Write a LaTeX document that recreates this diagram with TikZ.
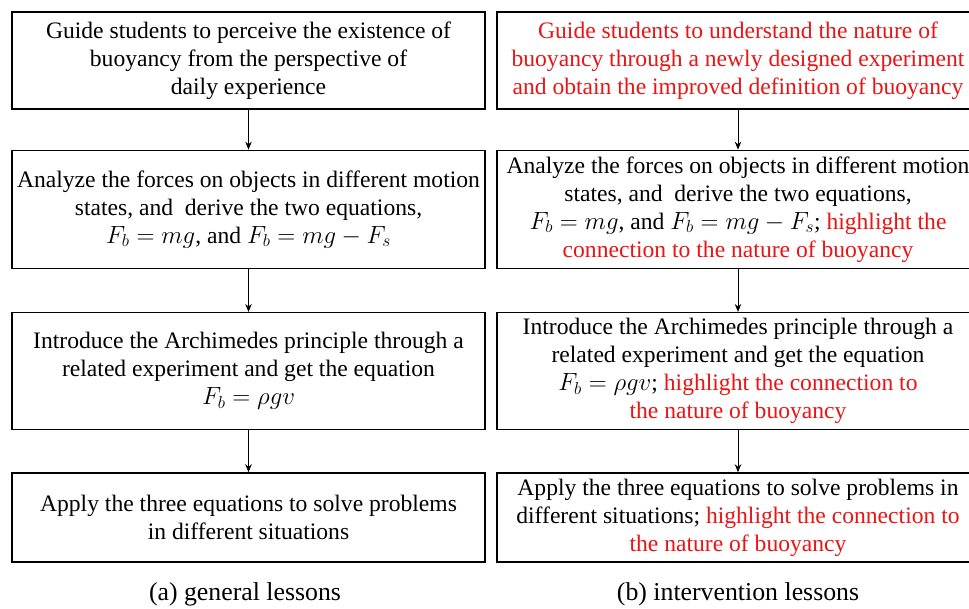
\documentclass[tikz,border=0pt]{standalone}
\usepackage{fontspec}
\setmainfont{Liberation Serif}
\usetikzlibrary{positioning, arrows.meta}
\definecolor{hlred}{RGB}{235,20,20}
\newcommand{\hlt}[1]{\textcolor{hlred}{#1}}

\begin{document}
\begin{tikzpicture}[
  x=1pt, y=1pt,
  >={Stealth[length=8pt, width=6.5pt]},
  every node/.style={font=\fontsize{23.6}{28}\selectfont},
  box/.style = {draw, line width=1.3pt, align=center, inner sep=0pt, minimum width=473pt},
  arr/.style = {->, line width=0.9pt},
  subcap/.style = {inner sep=0pt, font=\fontsize{25.8}{30}\selectfont},
]
  \useasboundingbox (0,0) rectangle (969,-608);
  \clip (0,0) rectangle (969,-608);
  % (a) general lessons
  \node[box, minimum height=97pt] (g1) at (248.5,-60.5)
    {Guide students to perceive the existence of\\buoyancy from the perspective of\\daily experience};
  \node[box, minimum height=118pt, below=40pt of g1] (g2)
    {Analyze the forces on objects in different motion\\states, and~ derive the two equations,\\$F_b = mg$, and $F_b = mg - F_s$};
  \node[box, minimum height=117pt, below=43pt of g2] (g3)
    {Introduce the Archimedes principle through a\\related experiment and get the equation\\$F_b = \rho g v$};
  \node[box, minimum height=89pt, below=42pt of g3] (g4)
    {Apply the three equations to solve problems\\in different situations};
  \draw[arr] (g1) -- (g2);
  \draw[arr] (g2) -- (g3);
  \draw[arr] (g3) -- (g4);
  % (b) intervention lessons
  \node[box, minimum width=482pt, minimum height=97pt] (v1) at (738,-60.5)
    {\hlt{Guide students to understand the nature of}\\\hlt{buoyancy through a newly designed experiment}\\\hlt{and obtain the improved definition of buoyancy}};
  \node[box, minimum width=482pt, minimum height=118pt, below=40pt of v1] (v2)
    {Analyze the forces on objects in different motion\\states, and~ derive the two equations,\\$F_b = mg$, and $F_b = mg - F_s$; \hlt{highlight the}\\\hlt{connection to the nature of buoyancy}};
  \node[box, minimum width=482pt, minimum height=117pt, below=43pt of v2] (v3)
    {Introduce the Archimedes principle through a\\related experiment and get the equation\\$F_b = \rho g v$; \hlt{highlight the connection to}\\\hlt{the nature of buoyancy}};
  \node[box, minimum width=482pt, minimum height=89pt, below=42pt of v3] (v4)
    {Apply the three equations to solve problems in\\different situations; \hlt{highlight the connection to}\\\hlt{the nature of buoyancy}};
  \draw[arr] (v1) -- (v2);
  \draw[arr] (v2) -- (v3);
  \draw[arr] (v3) -- (v4);
  % captions
  \node[subcap] (capa) at (245,-594) {(a) general lessons};
  \node[subcap] (capb) at (738,-594) {(b) intervention lessons};
\end{tikzpicture}
\end{document}
